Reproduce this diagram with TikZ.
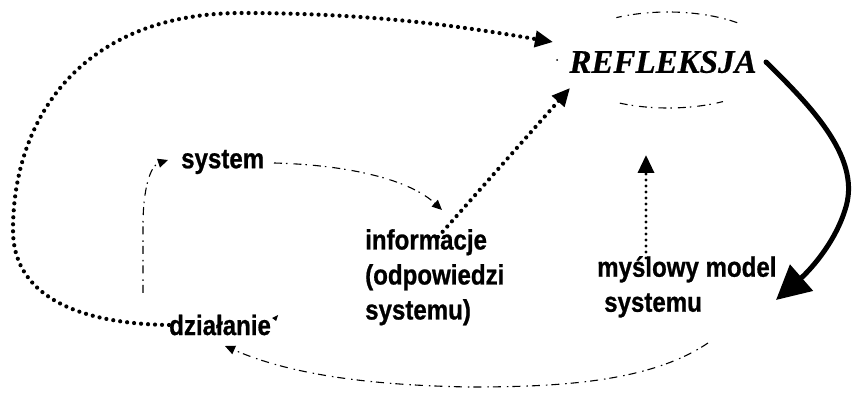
\documentclass[tikz,border=0pt]{standalone}
\usepackage{fontspec}
\usetikzlibrary{arrows.meta}
\newfontfamily\lblfont[FakeStretch=0.86, FakeBold=0.8, UprightFont=* Bold]{Liberation Sans}
\newfontfamily\titlefont[UprightFont=* Bold Italic, FakeBold=0.5]{Liberation Serif}
\tikzset{
  lbl/.style={font=\lblfont\fontsize{28}{35}\selectfont, inner sep=0pt, align=left},
  bigdots/.style={line width=4.2pt, line cap=round, dash pattern=on 0pt off 7pt},
  smalldots/.style={line width=3.4pt, line cap=round, dash pattern=on 0pt off 6pt},
  faint/.style={line width=1.1pt, dash pattern=on 8pt off 4pt on 1.5pt off 6pt},
  tipA/.style={-{Triangle[length=18pt,width=16pt]}},
  tipS/.style={-{Triangle[length=10pt,width=9pt]}},
}
\begin{document}
\begin{tikzpicture}[x=1pt,y=-1pt]
\useasboundingbox (0,0) rectangle (862,395);
% nodes
\node[font=\titlefont\fontsize{33}{36}\selectfont, inner sep=0pt] (refl) at (663,62) {REFLEKSJA};
\node[lbl, anchor=west] (sys) at (181,162) {system};
\node[lbl, anchor=north west] (info) at (365,229) {informacje\\(odpowiedzi\\systemu)};
\node[lbl, anchor=north west] (model) at (597,256) {myślowy model\\\hspace*{7pt}systemu};
\node[lbl, anchor=west] (dz) at (169,325) {działanie};
% ellipse around REFLEKSJA (faint)
\draw[faint] (668,60) ++(51:110 and -48) arc[start angle=51, end angle=118, x radius=110, y radius=-48];
\draw[faint] (668,60) ++(244:110 and -48) arc[start angle=244, end angle=300, x radius=110, y radius=-48];
\fill (557,60) circle (1pt);
% coordinates
\coordinate (reflL) at (553,42);
\coordinate (reflSW) at (570,88);
\coordinate (reflS) at (646,155);
\coordinate (infoT) at (438,237);
\coordinate (modelT) at (646,258);
\coordinate (modelR) at (776,300);
\coordinate (reflR) at (766,62);
\coordinate (sysR) at (274,163);
\coordinate (sysL) at (168,160);
\coordinate (infoTL) at (442,210);
\coordinate (dzT) at (143,293);
\coordinate (dzB) at (225,346);
\coordinate (modelB) at (708,343);
% big dotted loop
\draw[bigdots, tipA] (dz.west) .. controls (90,324) and (13,302) .. (13,230)
   .. controls (13,120) and (80,14) .. (240,13) .. controls (380,13) and (470,28) .. (reflL);
% information -> reflection
\draw[bigdots, tipA] (infoT) -- (reflSW);
% model -> reflection
\draw[smalldots, tipA] (modelT) -- (reflS);
% thick solid arrow reflection -> model
\draw[line width=5pt, line cap=round, -{Triangle[length=34pt,width=34pt]}] (reflR)
   .. controls (815,110) and (862,160) .. (845,210) .. controls (834,245) and (808,272) .. (modelR);
% system -> information
\draw[faint, tipS] (sysR) .. controls (350,165) and (410,180) .. (infoTL);
% dzialanie -> system
\draw[faint, tipS] (dzT) -- (143,225) .. controls (143,190) and (150,166) .. (sysL);
% model -> dzialanie
\draw[faint, tipS] (modelB) .. controls (650,382) and (560,387) .. (470,387)
   .. controls (350,385) and (280,370) .. (dzB);
% small mark after dzialanie
\fill (dz.east) ++(1,-7) -- ++(6,-3) -- ++(-2,6) -- cycle;
\end{tikzpicture}
\end{document}
